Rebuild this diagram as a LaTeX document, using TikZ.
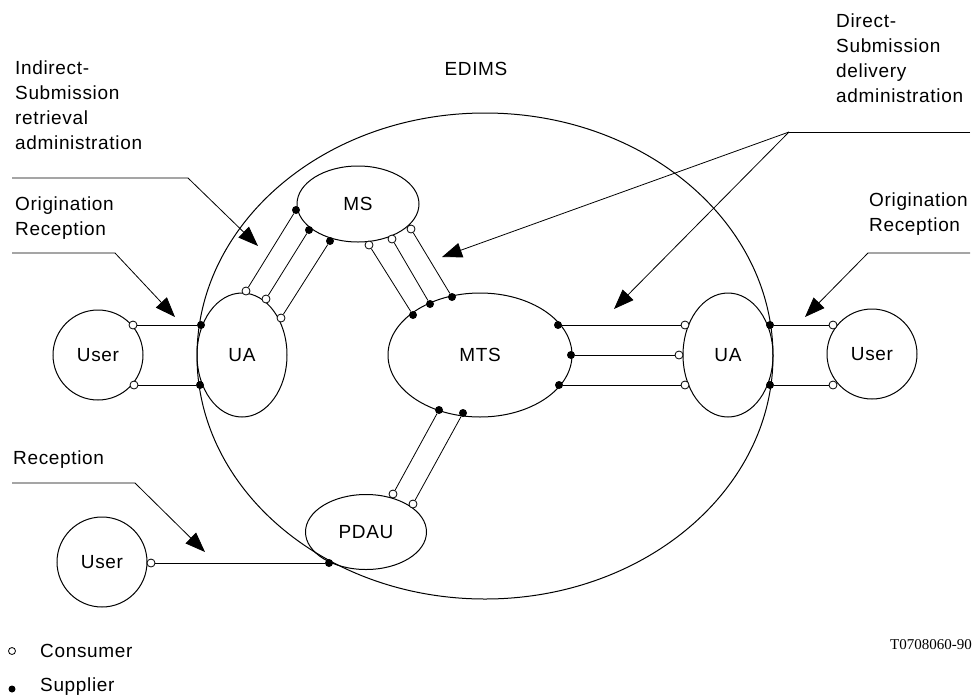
\documentclass[tikz,border=0pt]{standalone}
\usepackage{fontspec}
\setmainfont{Liberation Sans}[LetterSpace=3.5]
\newfontfamily\serifT{Liberation Serif}
\usetikzlibrary{shapes.geometric,arrows.meta}
\begin{document}
\begin{tikzpicture}[x=1pt,y=-1pt,
  every node/.style={font=\fontsize{19}{25}\selectfont},
  ell/.style={draw, ellipse, inner sep=0pt, line width=1pt},
  usr/.style={draw, circle, inner sep=0pt, minimum size=90pt, line width=1pt},
  sup/.style={circle, fill=black, inner sep=0pt, minimum size=8pt},
  con/.style={circle, draw, fill=white, inner sep=0pt, minimum size=8pt, line width=0.8pt},
  conn/.style={line width=0.8pt},
  lead/.style={line width=0.8pt, -{Triangle[length=20pt,width=15pt]}},
  lbl/.style={anchor=north west, inner sep=0pt, align=left}
]
\path[use as bounding box] (0,0) rectangle (975,697);

% main shapes
\node[ell, minimum width=576pt, minimum height=486pt] (edims) at (485,356) {};
\node[inner sep=0pt] (edimslbl) at (476,69) {EDIMS};
\node[usr] (user1) at (98,355) {User};
\node[ell, minimum width=90pt, minimum height=124pt] (ua1) at (242,355) {UA};
\node[ell, minimum width=122pt, minimum height=76pt] (ms) at (358,204) {MS};
\node[ell, minimum width=184pt, minimum height=124pt] (mts) at (480,355) {MTS};
\node[ell, minimum width=90pt, minimum height=124pt] (ua2) at (728,355) {UA};
\node[usr] (user2) at (872,354) {User};
\node[ell, minimum width=121pt, minimum height=75pt] (pdau) at (366,532) {PDAU};
\node[usr] (user3) at (102,562) {User};

% ports: user1 - ua1
\node[con] (c1) at (133,325) {};
\node[sup] (s1) at (201,325) {};
\node[con] (c2) at (134,385) {};
\node[sup] (s2) at (200,385) {};
\draw[conn] (c1) -- (s1);
\draw[conn] (c2) -- (s2);

% ua2 - user2
\node[sup] (s3) at (770,325) {};
\node[con] (c3) at (833,325) {};
\node[sup] (s4) at (770,385) {};
\node[con] (c4) at (833,385) {};
\draw[conn] (s3) -- (c3);
\draw[conn] (s4) -- (c4);

% mts - ua2
\node[sup] (s5) at (558,325) {};
\node[con] (c5) at (685,325) {};
\node[sup] (s6) at (571,355) {};
\node[con] (c6) at (679,355) {};
\node[sup] (s7) at (559,385) {};
\node[con] (c7) at (685,385) {};
\draw[conn] (s5) -- (c5);
\draw[conn] (s6) -- (c6);
\draw[conn] (s7) -- (c7);

% ms - ua1
\node[sup] (s8) at (296,210) {};
\node[con] (c8) at (246,291) {};
\node[sup] (s9) at (309,230) {};
\node[con] (c9) at (266,299) {};
\node[sup] (s10) at (330,241) {};
\node[con] (c10) at (281,318) {};
\draw[conn] (s8) -- (c8);
\draw[conn] (s9) -- (c9);
\draw[conn] (s10) -- (c10);

% ms - mts
\node[con] (c11) at (369,245) {};
\node[sup] (s11) at (413,315) {};
\node[con] (c12) at (392,239) {};
\node[sup] (s12) at (430,304) {};
\node[con] (c13) at (411,229) {};
\node[sup] (s13) at (452,297) {};
\draw[conn] (c11) -- (s11);
\draw[conn] (c12) -- (s12);
\draw[conn] (c13) -- (s13);

% mts - pdau
\node[sup] (s14) at (439,410) {};
\node[con] (c14) at (393,494) {};
\node[sup] (s15) at (463,413) {};
\node[con] (c15) at (413,504) {};
\draw[conn] (s14) -- (c14);
\draw[conn] (s15) -- (c15);

% pdau - user3
\node[sup] (s16) at (329,563) {};
\node[con] (c16) at (151,563) {};
\draw[conn] (s16) -- (c16);

% labels
\node[lbl] (lab1) at (15,61) {Indirect-\\Submission\\retrieval\\administration};
\node[lbl] (lab2) at (15,197) {Origination\\Reception};
\node[lbl] (lab3) at (13,451) {Reception};
\node[lbl] (lab4) at (836,14) {Direct-\\Submission\\delivery\\administration};
\node[lbl] (lab5) at (869,193) {Origination\\Reception};

% leader lines
\coordinate (i0) at (12,178); \coordinate (i1) at (188,178); \coordinate (i2) at (258,246);
\draw[lead] (i0) -- (i1) -- (i2);
\coordinate (o0) at (12,253); \coordinate (o1) at (115,253); \coordinate (o2) at (175,317);
\draw[lead] (o0) -- (o1) -- (o2);
\coordinate (r0) at (12,483); \coordinate (r1) at (135,483); \coordinate (r2) at (205,552);
\draw[lead] (r0) -- (r1) -- (r2);
\coordinate (d0) at (970,132); \coordinate (d1) at (789,132);
\coordinate (d2) at (442,257); \coordinate (d3) at (614,309);
\draw[conn] (d0) -- (d1);
\draw[lead] (d1) -- (d2);
\draw[lead] (d1) -- (d3);
\coordinate (q0) at (970,253); \coordinate (q1) at (868,253); \coordinate (q2) at (805,317);
\draw[lead] (q0) -- (q1) -- (q2);

% legend
\node[con, minimum size=7pt] (lc) at (12,651) {};
\node[anchor=base west, inner sep=0pt] (lct) at (40,657) {Consumer};
\node[sup, minimum size=7pt] (ls) at (12,689) {};
\node[anchor=base west, inner sep=0pt] (lst) at (40,691) {Supplier};
\node[anchor=base east, inner sep=0pt, font=\serifT\fontsize{15}{18}\selectfont] (ref) at (972,649) {T0708060-90};
\end{tikzpicture}
\end{document}
